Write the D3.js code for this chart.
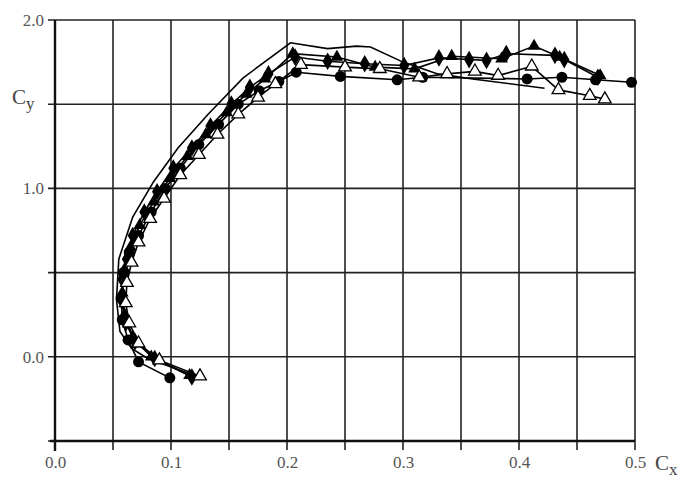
<!DOCTYPE html>
<html lang="en">
<head>
<meta charset="UTF-8">
<title>Cy vs Cx polar</title>
<script src="https://d3js.org/d3.v7.min.js"></script>
<style>
  body { margin: 0; background: #fff; }
  .grid line { stroke: #222; stroke-width: 1.6px; }
  .axlab { font-family: "Liberation Serif", serif; font-size: 21px; fill: #444; }
  .curve { fill: none; stroke: #000; stroke-width: 1.6px; }
</style>
</head>
<body>
<svg width="685" height="484"></svg>
<script>
// tick values
const xTicks = [0, 0.1, 0.2, 0.3, 0.4, 0.5];
const yTicks = [0, 1, 2];
const xGrid = [0, 0.05, 0.1, 0.15, 0.2, 0.25, 0.3, 0.35, 0.4, 0.45, 0.5];
const yGrid = [-0.5, 0, 0.5, 1.0, 1.5, 2.0];

// series: [Cx, Cy]
const plainLine = [[0.122,-0.115],[0.08,-0.01],[0.066,0.05],[0.056,0.15],[0.053,0.34],[0.055,0.58],
  [0.067,0.83],[0.085,1.04],[0.106,1.24],[0.132,1.44],[0.162,1.655],[0.203,1.865],[0.235,1.83],
  [0.26,1.845],[0.272,1.84],[0.3,1.75],[0.33,1.68],[0.36,1.65],[0.422,1.595]];

const circles = [[0.099,-0.125],[0.072,-0.03],[0.063,0.1],[0.058,0.22],[0.057,0.35],[0.059,0.5],
  [0.064,0.62],[0.072,0.72],[0.083,0.86],[0.095,1.0],[0.108,1.12],[0.124,1.26],[0.141,1.38],
  [0.158,1.5],[0.176,1.58],[0.193,1.635],[0.208,1.69],[0.246,1.665],[0.295,1.645],[0.317,1.66],
  [0.407,1.65],[0.437,1.66],[0.466,1.645],[0.497,1.63]];

const diamonds = [[0.118,-0.12],[0.086,-0.01],[0.069,0.09],[0.061,0.2],[0.058,0.33],[0.058,0.46],
  [0.062,0.58],[0.067,0.72],[0.077,0.86],[0.088,0.98],[0.102,1.12],[0.118,1.24],[0.134,1.37],
  [0.152,1.5],[0.168,1.6],[0.184,1.68],[0.207,1.78],[0.235,1.755],[0.267,1.74],[0.301,1.73],
  [0.331,1.775],[0.357,1.765],[0.372,1.76],[0.389,1.8],[0.431,1.79],[0.439,1.765],[0.468,1.66]];

const openTris = [[0.125,-0.115],[0.09,-0.02],[0.072,0.08],[0.064,0.2],[0.061,0.32],[0.062,0.44],
  [0.066,0.56],[0.072,0.68],[0.082,0.82],[0.094,0.94],[0.108,1.08],[0.124,1.2],[0.14,1.32],
  [0.158,1.44],[0.175,1.54],[0.19,1.62],[0.212,1.735],[0.25,1.72],[0.28,1.71],[0.314,1.66],
  [0.338,1.68],[0.362,1.695],[0.382,1.67],[0.411,1.725],[0.434,1.585],[0.461,1.55],[0.474,1.53]];

const filledTris = [[0.116,-0.11],[0.083,0.0],[0.067,0.12],[0.06,0.25],[0.058,0.38],[0.06,0.52],
  [0.065,0.65],[0.073,0.78],[0.085,0.92],[0.099,1.06],[0.114,1.19],[0.13,1.32],[0.148,1.45],
  [0.165,1.56],[0.181,1.65],[0.205,1.8],[0.243,1.78],[0.276,1.72],[0.31,1.71],[0.342,1.785],
  [0.385,1.77],[0.413,1.845],[0.435,1.78],[0.47,1.67]];

const svg = d3.select("svg");
const margin = {left: 55, right: 50, top: 20, bottom: 43};
const W = +svg.attr("width"), H = +svg.attr("height");

const x = d3.scaleLinear().domain([0, 0.5]).range([margin.left, W - margin.right]);
const y = d3.scaleLinear().domain([-0.5, 2.0]).range([H - margin.bottom, margin.top]);

// grid
const grid = svg.append("g").attr("class", "grid");
grid.selectAll(".v").data(xGrid).enter().append("line")
  .attr("x1", d => x(d)).attr("x2", d => x(d))
  .attr("y1", y(2.0)).attr("y2", y(-0.5) + 9);
grid.selectAll(".h").data(yGrid).enter().append("line")
  .attr("x1", x(0) - 7).attr("x2", x(0.5))
  .attr("y1", d => y(d)).attr("y2", d => y(d));

// heavier axis lines
svg.append("line").attr("x1", x(0)).attr("x2", x(0)).attr("y1", y(2.0)).attr("y2", y(-0.5) + 10)
  .attr("stroke", "#111").attr("stroke-width", 2.4);
svg.append("line").attr("x1", x(0) - 5).attr("x2", x(0.5)).attr("y1", y(-0.5)).attr("y2", y(-0.5))
  .attr("stroke", "#111").attr("stroke-width", 2.4);

// tick labels via axes
const xAxis = svg.append("g").attr("transform", `translate(0,${y(-0.5)})`)
  .call(d3.axisBottom(x).tickValues(xTicks).tickSize(0).tickPadding(15).tickFormat(d3.format(".1f")));
const yAxis = svg.append("g").attr("transform", `translate(${x(0)},0)`)
  .call(d3.axisLeft(y).tickValues(yTicks).tickSize(0).tickPadding(11).tickFormat(d3.format(".1f")));
[xAxis, yAxis].forEach(a => {
  a.select(".domain").remove();
  a.selectAll("text").attr("fill", "#555")
    .style("font-family", "'Liberation Serif', serif").style("font-size", "17px");
});

// axis titles
const cy = svg.append("text").attr("class", "axlab").attr("x", 12).attr("y", 104);
cy.append("tspan").text("C");
cy.append("tspan").attr("dy", 5).attr("font-size", 17).text("y");
const cx = svg.append("text").attr("class", "axlab").attr("x", 655).attr("y", 470);
cx.append("tspan").text("C");
cx.append("tspan").attr("dy", 5).attr("font-size", 17).text("x");

// curves
const line = d3.line().x(d => x(d[0])).y(d => y(d[1]));
[plainLine, circles, diamonds, openTris, filledTris].forEach(s => {
  svg.append("path").datum(s).attr("class", "curve").attr("d", line);
});

// markers
svg.append("g").selectAll("circle").data(circles).enter().append("circle")
  .attr("cx", d => x(d[0])).attr("cy", d => y(d[1])).attr("r", 5.5).attr("fill", "#000");

const diamondSym = d3.symbol().type(d3.symbolDiamond).size(90);
svg.append("g").selectAll("path").data(diamonds).enter().append("path")
  .attr("transform", d => `translate(${x(d[0])},${y(d[1])})`)
  .attr("d", diamondSym).attr("fill", "#000");

const triSym = d3.symbol().type(d3.symbolTriangle).size(70);
svg.append("g").selectAll("path").data(filledTris).enter().append("path")
  .attr("transform", d => `translate(${x(d[0])},${y(d[1])})`)
  .attr("d", triSym).attr("fill", "#000");

svg.append("g").selectAll("path").data(openTris).enter().append("path")
  .attr("transform", d => `translate(${x(d[0])},${y(d[1])})`)
  .attr("d", triSym).attr("fill", "#fff").attr("stroke", "#000").attr("stroke-width", 1.3);
</script>
</body>
</html>
